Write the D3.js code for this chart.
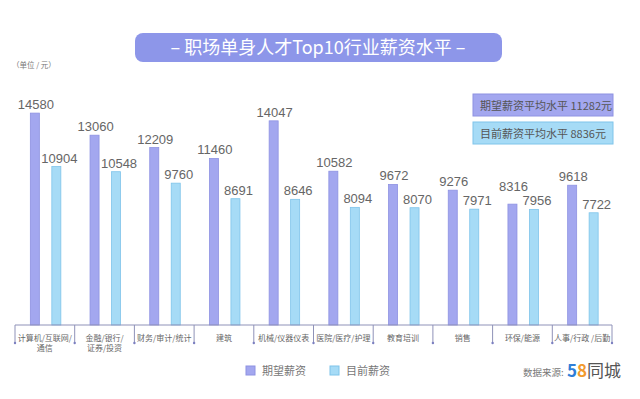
<!DOCTYPE html>
<html>
<head>
<meta charset="utf-8">
<script src="https://cdn.jsdelivr.net/npm/d3@7"></script>
<style>
  html, body { margin: 0; padding: 0; background: #fff; }
  svg { display: block; font-family: "Liberation Sans", Arial, "Noto Sans CJK SC", sans-serif; }
</style>
</head>
<body>
<svg id="chart" width="640" height="399"></svg>
<script>
// 行业
let categories = [
    ["计算机/互联网/", "通信"],
    ["金融/银行/", "证券/投资"],
    ["财务/审计/统计"],
    ["建筑"],
    ["机械/仪器仪表"],
    ["医院/医疗/护理"],
    ["教育培训"],
    ["销售"],
    ["环保/能源"],
    ["人事/行政 /后勤"]
];
let expected = [14580, 13060, 12209, 11460, 14047, 10582, 9672, 9276, 8316, 9618];
let current = [10904, 10548, 9760, 8691, 8646, 8094, 8070, 7971, 7956, 7722];
let seriesNames = ["期望薪资", "目前薪资"];
let averages = [
    {label: "期望薪资平均水平", value: "11282元"},
    {label: "目前薪资平均水平", value: "8836元"}
];

let colors = { fill: ["#a3a7ef", "#a6dbf6"], stroke: ["#8e92e2", "#7fc4ea"] };

let svg = d3.select("#chart");
let margin = {left: 15, right: 28, top: 107, bottom: 74};
let width = 640, height = 399;

let data = categories.map((c, i) => ({
    key: c.join(""),
    lines: c,
    values: [expected[i], current[i]]
}));

let x0 = d3.scaleBand()
    .domain(data.map(d => d.key))
    .range([margin.left, width - margin.right])
    .padding(0);
let bw = x0.bandwidth();
let x1 = d3.scaleBand()
    .domain([0, 1])
    .range([bw * 0.257, bw * 0.768])
    .paddingInner(0.58);
let y = d3.scaleLinear()
    .domain([0, 15000])
    .range([height - margin.bottom, margin.top]);

// 标题
let gTitle = svg.append("g");
gTitle.append("rect")
    .attr("x", 135).attr("y", 33)
    .attr("width", 367).attr("height", 29)
    .attr("rx", 8)
    .attr("fill", "#8d96e9");
gTitle.append("text")
    .attr("x", 318).attr("y", 54)
    .attr("text-anchor", "middle")
    .attr("fill", "#fff")
    .attr("font-size", 18)
    .attr("font-family", "'Noto Sans CJK SC', sans-serif")
    .text("– 职场单身人才Top10行业薪资水平 –");

svg.append("text")
    .attr("x", 12).attr("y", 68)
    .attr("fill", "#777")
    .attr("font-size", 7.5)
    .attr("font-family", "'Noto Sans CJK SC', sans-serif")
    .text("（单位 / 元）");

// 平均水平
let gAvg = svg.append("g");
averages.forEach((a, i) => {
    let yy = 94 + i * 28;
    gAvg.append("rect")
        .attr("x", 473).attr("y", yy)
        .attr("width", 140).attr("height", 22)
        .attr("fill", colors.fill[i])
        .attr("stroke", colors.stroke[i]);
    gAvg.append("text")
        .attr("x", 480).attr("y", yy + 15.5)
        .attr("fill", "#555")
        .attr("font-size", 11)
        .attr("font-family", "'Noto Sans CJK SC', sans-serif")
        .text(a.label + " " + a.value);
});

// 柱子
let gCat = svg.append("g")
    .selectAll("g.cat")
    .data(data)
    .enter()
    .append("g")
        .attr("class", "cat")
        .attr("transform", d => `translate(${x0(d.key)},0)`);

gCat.selectAll("rect")
    .data(d => d.values.map((v, i) => ({i, v})))
    .enter()
    .append("rect")
        .attr("x", d => x1(d.i))
        .attr("y", d => y(d.v))
        .attr("width", x1.bandwidth())
        .attr("height", d => y(0) - y(d.v))
        .attr("fill", d => colors.fill[d.i])
        .attr("stroke", d => colors.stroke[d.i])
        .attr("stroke-width", 0.8);

// 数值标签：两根柱子高度接近时把左边标签抬高，避免重叠
let labelY = (vals, i) => {
    let base = vals.map(v => y(v) - 4);
    if (i === 0 && base[1] - base[0] < 14) return base[1] - 14;
    return base[i];
};
gCat.selectAll("text.val")
    .data(d => d.values.map((v, i) => ({i, v, ly: labelY(d.values, i)})))
    .enter()
    .append("text")
        .attr("class", "val")
        .attr("x", d => x1(d.i) + x1.bandwidth() / 2 + (d.i === 1 ? 3 : 1))
        .attr("y", d => d.ly)
        .attr("text-anchor", "middle")
        .attr("fill", "#666")
        .attr("font-size", 13)
        .text(d => d.v);

// x 轴
let axisY = y(0);
let gAxis = svg.append("g");
gAxis.append("line")
    .attr("x1", margin.left).attr("x2", width - margin.right)
    .attr("y1", axisY).attr("y2", axisY)
    .attr("stroke", "#8f92b8");
let bounds = x0.domain().map(k => x0(k)).concat([x0.range()[1]]);
gAxis.selectAll("line.tick")
    .data(bounds)
    .enter()
    .append("line")
        .attr("x1", d => d).attr("x2", d => d)
        .attr("y1", axisY).attr("y2", axisY + 17)
        .attr("stroke", "#8f92b8");
gAxis.selectAll("circle")
    .data(bounds)
    .enter()
    .append("circle")
        .attr("cx", d => d).attr("cy", axisY + 18)
        .attr("r", 1.2)
        .attr("fill", "#7b7fc0");

gAxis.selectAll("text.cat")
    .data(data)
    .enter()
    .append("text")
        .attr("class", "cat")
        .attr("x", d => x0(d.key) + bw / 2)
        .attr("y", axisY + 16)
        .attr("text-anchor", "middle")
        .attr("fill", "#666")
        .attr("font-size", 8)
        .attr("font-family", "'Noto Sans CJK SC', sans-serif")
        .selectAll("tspan")
        .data(d => d.lines)
        .enter()
        .append("tspan")
            .attr("x", function() { return d3.select(this.parentNode).attr("x"); })
            .attr("dy", (d, i) => i === 0 ? 0 : 10)
            .text(d => d);

// 图例
let gLegend = svg.append("g");
seriesNames.forEach((s, i) => {
    let lx = 246 + i * 84;
    gLegend.append("rect")
        .attr("x", lx).attr("y", 366)
        .attr("width", 9).attr("height", 9)
        .attr("fill", colors.fill[i])
        .attr("stroke", colors.stroke[i]);
    gLegend.append("text")
        .attr("x", lx + 16).attr("y", 375)
        .attr("fill", "#777")
        .attr("font-size", 11)
        .attr("font-family", "'Noto Sans CJK SC', sans-serif")
        .text(s);
});

// 数据来源
let gSrc = svg.append("g").attr("font-family", "'Noto Sans CJK SC', sans-serif");
gSrc.append("text")
    .attr("x", 523).attr("y", 376)
    .attr("fill", "#777")
    .attr("font-size", 9.5)
    .text("数据来源:");
let logo = gSrc.append("text")
    .attr("x", 567).attr("y", 377)
    .attr("font-size", 17)
    .attr("font-weight", "bold");
logo.append("tspan").attr("fill", "#2f7fd8").text("5");
logo.append("tspan").attr("fill", "#f29a2e").text("8");
logo.append("tspan").attr("fill", "#555").attr("font-weight", "normal").text("同城");
</script>
</body>
</html>
